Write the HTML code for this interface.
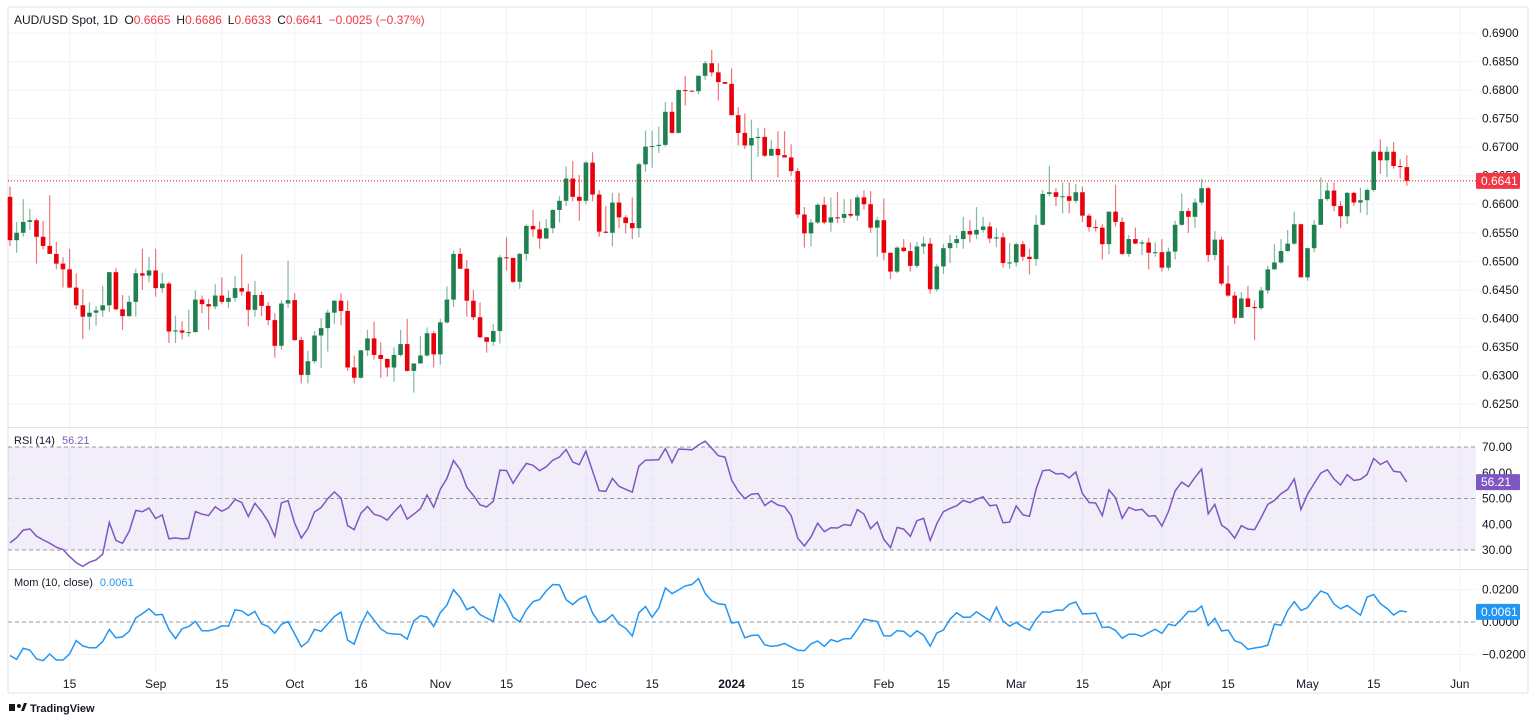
<!DOCTYPE html>
<html><head><meta charset="utf-8">
<style>
html,body{margin:0;padding:0;background:#fff;width:1536px;height:722px;overflow:hidden;font-family:"Liberation Sans",sans-serif;}
svg{position:absolute;left:0;top:0;}
</style></head>
<body>
<svg id="chart" width="1536" height="722" viewBox="0 0 1536 722" xmlns="http://www.w3.org/2000/svg">
  <rect x="8" y="7" width="1520" height="686" fill="#fff" stroke="#e0e3eb" stroke-width="1"/>
  <g id="grid"></g>
  <g id="rsiBand"></g>
  <line x1="8" y1="427.5" x2="1528" y2="427.5" stroke="#e0e3eb"/>
  <line x1="8" y1="569.5" x2="1528" y2="569.5" stroke="#e0e3eb"/>
  <g id="candles"></g>
  <g id="rsiG"></g>
  <g id="momG"></g>
  <g id="axes" font-family="Liberation Sans, sans-serif" font-size="12" fill="#131722"></g>
  <text x="14" y="24" font-size="12" fill="#131722">AUD/USD Spot, 1D <tspan dx="3">O</tspan><tspan fill="#f23645">0.6665</tspan><tspan dx="6">H</tspan><tspan fill="#f23645">0.6686</tspan><tspan dx="6">L</tspan><tspan fill="#f23645">0.6633</tspan><tspan dx="6">C</tspan><tspan fill="#f23645">0.6641</tspan><tspan dx="6" fill="#f23645">−0.0025 (−0.37%)</tspan></text>
  <text x="14" y="444" font-size="11" fill="#131722">RSI (14) <tspan dx="4" fill="#7e57c2">56.21</tspan></text>
  <text x="14" y="586" font-size="11" fill="#131722">Mom (10, close) <tspan dx="4" fill="#2196f3">0.0061</tspan></text>
  <g>
    <rect x="9" y="704" width="6" height="7" fill="#131722"/><circle cx="19" cy="706" r="2" fill="#131722"/><path d="M21 711 L24 703 L27 703 L24 711Z" fill="#131722"/>
    <text x="30" y="712" font-size="11" font-weight="bold" fill="#131722">TradingView</text>
  </g>
</svg>
<script>
const NS="http://www.w3.org/2000/svg";
const firstOpen=0.6613;
const warmCloses=[0.6600,0.6620,0.6650,0.6640,0.6680,0.6700,0.6690,0.6720,0.6700,0.6690,0.6680,0.6670,0.6660,0.6690,0.6700,0.6710,0.6740,0.6770,0.6790,0.6770,0.6743,0.6780,0.6730,0.6745,0.6770,0.6765,0.6710,0.6730,0.6720,0.6650];
const closes=[0.6537,0.6550,0.6569,0.6572,0.6543,0.6527,0.6513,0.6496,0.6486,0.6454,
0.6423,0.6403,0.6410,0.6414,0.6423,0.6481,0.6416,0.6404,0.6429,0.6479,
0.6475,0.6484,0.6453,0.6461,0.6377,0.6379,0.6375,0.6376,0.6433,0.6425,
0.6421,0.6440,0.6429,0.6436,0.6453,0.6447,0.6415,0.6441,0.6422,0.6397,
0.6352,0.6426,0.6432,0.6362,0.6301,0.6325,0.6370,0.6383,0.6410,0.6431,
0.6413,0.6314,0.6296,
0.6344,0.6365,0.6336,0.6329,0.6314,0.6336,0.6355,0.6308,0.6321,0.6335,
0.6374,0.6337,0.6393,0.6433,0.6513,0.6487,0.6431,0.6402,0.6367,0.6359,
0.6378,0.6507,0.6506,0.6464,0.6513,0.6562,0.6556,0.6540,0.6558,0.6590,
0.6606,0.6645,0.6613,0.6606,0.6673,0.6617,0.6552,0.6550,0.6603,0.6577,
0.6567,0.6558,0.6670,0.6701,0.6702,0.6704,0.6762,0.6725,0.6800,0.6799,
0.6798,0.6825,0.6847,0.6831,
0.6814,0.6811,0.6756,0.6725,0.6703,0.6716,0.6718,0.6685,0.6697,0.6686,
0.6682,0.6658,0.6582,0.6549,0.6568,0.6599,0.6568,0.6577,0.6576,0.6583,
0.6580,0.6612,0.6600,0.6559,0.6572,0.6515,0.6482,0.6524,0.6518,0.6492,
0.6526,0.6531,0.6451,0.6491,0.6523,0.6532,0.6539,0.6553,0.6547,0.6555,
0.6561,0.6540,0.6542,0.6497,0.6498,0.6530,0.6508,0.6504,0.6564,0.6618,
0.6621,0.6613,0.6614,
0.6606,0.6621,0.6580,0.6560,0.6559,0.6530,0.6587,0.6569,0.6513,0.6539,
0.6531,0.6533,0.6515,0.6516,0.6489,0.6517,0.6564,0.6588,0.6578,0.6603,
0.6628,0.6511,0.6538,0.6461,0.6440,0.6401,0.6435,0.6420,0.6418,0.6449,
0.6486,0.6498,0.6518,0.6531,0.6565,0.6472,0.6523,0.6564,0.6609,0.6624,
0.6597,0.6579,0.6620,0.6603,0.6607,0.6625,0.6692,0.6677,0.6692,0.6667,
0.6665,0.6641];
const highs=[0.6631,0.6569,0.6609,0.6592,0.6575,0.6571,0.6616,0.6534,0.6507,0.6522,
0.6479,0.6451,0.6428,0.6422,0.6457,0.6481,0.6488,0.6441,0.6440,0.6487,
0.6522,0.6508,0.6522,0.6480,0.6464,0.6405,0.6395,0.6415,0.6449,0.6440,
0.6434,0.6460,0.6472,0.6449,0.6474,0.6512,0.6461,0.6466,0.6447,0.6429,
0.6409,0.6432,0.6501,0.6444,0.6368,0.6343,0.6378,0.6400,0.6415,0.6432,
0.6444,0.6431,0.6335,
0.6345,0.6380,0.6394,0.6358,0.6330,0.6349,0.6380,0.6399,0.6321,0.6369,
0.6384,0.6378,0.6399,0.6456,0.6519,0.6523,0.6502,0.6450,0.6428,0.6367,
0.6390,0.6511,0.6542,0.6505,0.6515,0.6565,0.6590,0.6570,0.6574,0.6591,
0.6614,0.6666,0.6676,0.6651,0.6676,0.6691,0.6625,0.6597,0.6620,0.6620,
0.6581,0.6612,0.6673,0.6729,0.6729,0.6736,0.6779,0.6779,0.6801,0.6825,
0.6798,0.6826,0.6851,0.6870,
0.6847,0.6811,0.6838,0.6770,0.6759,0.6748,0.6734,0.6734,0.6713,0.6728,
0.6728,0.6705,0.6663,0.6595,0.6574,0.6602,0.6613,0.6612,0.6621,0.6609,
0.6609,0.6617,0.6624,0.6623,0.6578,0.6610,0.6515,0.6526,0.6539,0.6533,
0.6534,0.6543,0.6541,0.6495,0.6530,0.6546,0.6546,0.6578,0.6572,0.6595,
0.6578,0.6569,0.6558,0.6550,0.6532,0.6533,0.6536,0.6522,0.6581,0.6625,
0.6667,0.6628,0.6638,
0.6638,0.6635,0.6631,0.6584,0.6573,0.6565,0.6587,0.6634,0.6577,0.6546,
0.6559,0.6537,0.6541,0.6533,0.6539,0.6524,0.6571,0.6619,0.6593,0.6610,
0.6644,0.6630,0.6553,0.6543,0.6493,0.6447,0.6446,0.6457,0.6432,0.6455,
0.6492,0.6530,0.6539,0.6555,0.6587,0.6566,0.6524,0.6572,0.6647,0.6638,
0.6638,0.6606,0.6622,0.6622,0.6629,0.6628,0.6694,0.6714,0.6701,0.6709,
0.6679,0.6686];
const lows=[0.6527,0.6515,0.6543,0.6555,0.6496,0.6521,0.6513,0.6486,0.6454,0.6453,
0.6416,0.6364,0.6380,0.6387,0.6403,0.6411,0.6414,0.6380,0.6403,0.6403,
0.6450,0.6463,0.6438,0.6445,0.6357,0.6357,0.6363,0.6368,0.6375,0.6409,
0.6380,0.6416,0.6425,0.6418,0.6429,0.6440,0.6386,0.6403,0.6404,0.6388,
0.6331,0.6345,0.6418,0.6361,0.6286,0.6286,0.6321,0.6313,0.6342,0.6390,
0.6388,0.6308,0.6286,
0.6295,0.6334,0.6328,0.6296,0.6298,0.6289,0.6333,0.6307,0.6270,0.6321,
0.6333,0.6314,0.6319,0.6391,0.6420,0.6487,0.6403,0.6397,0.6365,0.6340,
0.6352,0.6356,0.6484,0.6462,0.6452,0.6501,0.6543,0.6522,0.6539,0.6549,
0.6568,0.6597,0.6605,0.6571,0.6600,0.6605,0.6543,0.6549,0.6526,0.6558,
0.6549,0.6539,0.6542,0.6657,0.6664,0.6690,0.6701,0.6724,0.6724,0.6773,
0.6797,0.6793,0.6818,0.6824,
0.6782,0.6811,0.6756,0.6703,0.6697,0.6641,0.6683,0.6683,0.6686,0.6647,
0.6683,0.6650,0.6576,0.6524,0.6526,0.6565,0.6565,0.6552,0.6567,0.6567,
0.6576,0.6571,0.6591,0.6550,0.6508,0.6502,0.6469,0.6479,0.6516,0.6482,
0.6488,0.6513,0.6443,0.6447,0.6478,0.6497,0.6523,0.6522,0.6533,0.6539,
0.6550,0.6532,0.6525,0.6489,0.6487,0.6491,0.6501,0.6477,0.6492,0.6563,
0.6614,0.6597,0.6584,
0.6584,0.6602,0.6569,0.6552,0.6552,0.6503,0.6512,0.6561,0.6511,0.6508,
0.6530,0.6511,0.6486,0.6508,0.6482,0.6484,0.6503,0.6562,0.6550,0.6559,
0.6599,0.6499,0.6502,0.6457,0.6438,0.6390,0.6401,0.6421,0.6362,0.6415,
0.6443,0.6485,0.6496,0.6517,0.6529,0.6472,0.6466,0.6516,0.6564,0.6606,
0.6588,0.6558,0.6565,0.6597,0.6585,0.6581,0.6622,0.6653,0.6648,0.6662,
0.6645,0.6632];
const timeTickLabels=["15","Sep","15","Oct","16","Nov","15","Dec","15","2024","15","Feb","15","Mar","15","Apr","15","May","15","Jun"];
const timeTickBars=[9,22,32,43,53,65,75,87,97,109,119,132,141,152,162,174,184,196,206,219];
const priceTicks=[0.6250,0.6300,0.6350,0.6400,0.6450,0.6500,0.6550,0.6600,0.6650,0.6700,0.6750,0.6800,0.6850,0.6900];
const rsiTicks=[30,40,50,60,70];
const momTicks=[-0.02,0,0.02];
const lastPrice=0.6641;

const PL=8,PR=1476;
const xOf=i=>10+i*6.62;
const yP=p=>33+(0.69-p)*5708;
const yR=v=>447+(70-v)*2.575;
const yM=v=>622-v*1625;
const UP="#1f8050",DN="#e8000b";

function mk(tag,attrs,parent){const e=document.createElementNS(NS,tag);for(const k in attrs)e.setAttribute(k,attrs[k]);parent.appendChild(e);return e;}
const grid=document.getElementById('grid'),axes=document.getElementById('axes');
timeTickBars.forEach((b,k)=>{const x=xOf(b);
  if(x<PR){const l=mk('line',{x1:x,y1:8,x2:x,y2:672,stroke:'#f0f3fa'},grid);
  
  }
  const t=mk('text',{x:x,y:688,'text-anchor':'middle','font-weight':timeTickLabels[k]==="2024"?"bold":"normal"},axes);t.textContent=timeTickLabels[k];
  
  
});
priceTicks.forEach(p=>{const y=yP(p);
  const l=mk('line',{x1:PL,y1:y,x2:PR,y2:y,stroke:'#f0f3fa'},grid);
  
  
  const t=mk('text',{x:1482,y:y+4},axes);t.textContent=p.toFixed(4);
  
  
});
const rb=document.getElementById('rsiBand');
const band=mk('rect',{x:PL,y:yR(70),width:PR-PL,height:yR(30)-yR(70),fill:'rgba(126,87,194,0.1)'},rb);


rsiTicks.forEach(v=>{const y=yR(v);
  const dashed=(v===30||v===50||v===70);
  const l=mk('line',{x1:PL,y1:y,x2:PR,y2:y,stroke:dashed?'#9598a1':'#f0f3fa','stroke-dasharray':dashed?'4,3':'none'},rb);
  
  
  const t=mk('text',{x:1482,y:y+4},axes);t.textContent=v.toFixed(2);
  
  
});
momTicks.forEach(v=>{const y=yM(v);
  const l=mk('line',{x1:PL,y1:y,x2:PR,y2:y,stroke:v===0?'#9598a1':'#f0f3fa','stroke-dasharray':v===0?'4,3':'none'},rb);
  
  
  const t=mk('text',{x:1482,y:y+4},axes);t.textContent=(v<0?"−":"")+Math.abs(v).toFixed(4);
  
  
});
const cg=document.getElementById('candles');
for(let i=0;i<closes.length;i++){
  const o=i===0?firstOpen:closes[i-1],c=closes[i];
  const h=Math.max(highs[i],o,c),l=Math.min(lows[i],o,c);
  const up=c>=o,col=up?UP:DN,x=xOf(i);
  const g=mk('g',{},cg);
  
  
  mk('line',{x1:x,y1:yP(h),x2:x,y2:yP(l),stroke:col,'stroke-opacity':0.55,'stroke-width':1.2},g);
  const yt=yP(Math.max(o,c)),yb=yP(Math.min(o,c));
  mk('rect',{x:x-2.3,y:yt,width:4.6,height:Math.max(1,yb-yt),fill:col},g);
}
const lp=mk('line',{x1:PL,y1:yP(lastPrice),x2:PR,y2:yP(lastPrice),stroke:DN,'stroke-dasharray':'1,2','stroke-width':1},cg);


const lb=mk('rect',{x:1476,y:yP(lastPrice)-8,width:44,height:16,fill:'#f23645',rx:1},axes);


const lt=mk('text',{x:1481,y:yP(lastPrice)+4,fill:'#fff'},axes);lt.textContent=lastPrice.toFixed(4);


const all=warmCloses.concat(closes),W=warmCloses.length;
let ag=0,al=0;const rsi=[];
for(let j=1;j<all.length;j++){const d=all[j]-all[j-1],g=Math.max(d,0),lo=Math.max(-d,0);
  if(j<=14){ag+=g/14;al+=lo/14;}else{ag=(ag*13+g)/14;al=(al*13+lo)/14;}
  if(j>=W){rsi.push(al===0?100:100-100/(1+ag/al));}}
const mom=closes.map((c,i)=>c-all[W+i-10]);
const rsiPath=rsi.map((v,i)=>(i?'L':'M')+xOf(i).toFixed(1)+' '+yR(v).toFixed(1)).join(' ');
const rp=mk('path',{d:rsiPath,fill:'none',stroke:'#7e57c2','stroke-width':1.5},document.getElementById('rsiG'));


const momPath=mom.map((v,i)=>(i?'L':'M')+xOf(i).toFixed(1)+' '+yM(v).toFixed(1)).join(' ');
const mp=mk('path',{d:momPath,fill:'none',stroke:'#2196f3','stroke-width':1.5},document.getElementById('momG'));


const rv=rsi[rsi.length-1],mv=mom[mom.length-1];
const r1=mk('rect',{x:1476,y:yR(rv)-8,width:44,height:16,fill:'#7e57c2',rx:1},axes);


const r2=mk('text',{x:1481,y:yR(rv)+4,fill:'#fff'},axes);r2.textContent="56.21";


const m1=mk('rect',{x:1476,y:yM(mv)-8,width:44,height:16,fill:'#2196f3',rx:1},axes);


const m2=mk('text',{x:1481,y:yM(mv)+4,fill:'#fff'},axes);m2.textContent="0.0061";


</script>
</body></html>
